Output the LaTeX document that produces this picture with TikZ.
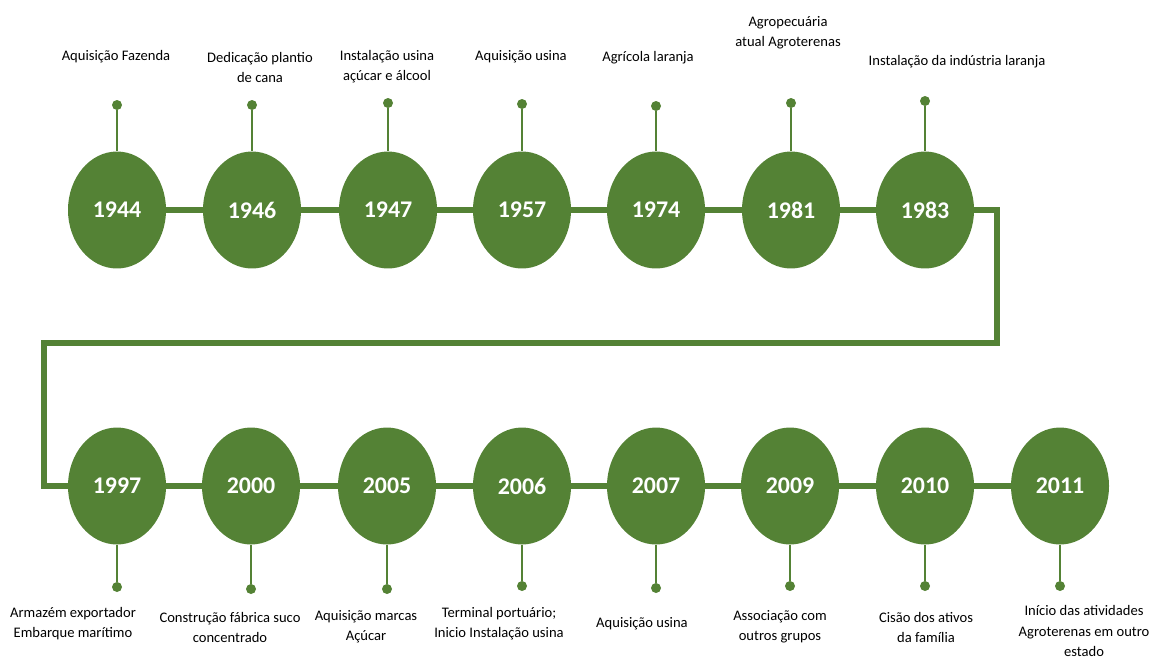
\documentclass[tikz,border=0pt]{standalone}
\usepackage{fontspec}
\setmainfont{Carlito}
\usetikzlibrary{shapes.geometric}
\definecolor{folha}{RGB}{84,130,53}

\begin{document}
\begin{tikzpicture}[x=0.02cm,y=-0.02cm,
    ano/.style={ellipse,fill=folha,minimum width=1.96cm,minimum height=2.34cm,inner sep=0pt,text=white,font=\fontsize{13.6}{15}\selectfont\bfseries},
    pino/.style={circle,fill=folha,minimum size=0.2cm,inner sep=0pt},
    legenda/.style={align=center,font=\fontsize{8.3}{11.4}\selectfont},
    elo/.style={draw=folha,line width=0.11cm},
    haste/.style={draw=folha,line width=0.8pt}]
\useasboundingbox (0,0) rectangle (1151,660);
% linha de cima
\node[ano] (a1944) at (117,210) {1944};
\node[ano] (a1946) at (252,210) {1946};
\node[ano] (a1947) at (388,210) {1947};
\node[ano] (a1957) at (522,210) {1957};
\node[ano] (a1974) at (656,210) {1974};
\node[ano] (a1981) at (791,210) {1981};
\node[ano] (a1983) at (925,210) {1983};
% linha de baixo
\node[ano] (a1997) at (117,486) {1997};
\node[ano] (a2000) at (251,486) {2000};
\node[ano] (a2005) at (387,486) {2005};
\node[ano] (a2006) at (522,486) {2006};
\node[ano] (a2007) at (656,486) {2007};
\node[ano] (a2009) at (790,486) {2009};
\node[ano] (a2010) at (925,486) {2010};
\node[ano] (a2011) at (1060,486) {2011};
\foreach \i/\j in {1944/1946,1946/1947,1947/1957,1957/1974,1974/1981,1981/1983,1997/2000,2000/2005,2005/2006,2006/2007,2007/2009,2009/2010,2010/2011}
    \draw[elo] (a\i) -- (a\j);
\coordinate (c1) at (997,343);
\coordinate (c2) at (44,343);
\draw[elo] (a1983.east) -- (a1983.east -| c1) -- (c1) -- (c2) |- (a1997.west);
% pinos
\node[pino] (p1944) at (117,105) {};
\node[pino] (p1946) at (252,105) {};
\node[pino] (p1947) at (388,103) {};
\node[pino] (p1957) at (522,104) {};
\node[pino] (p1974) at (656,106) {};
\node[pino] (p1981) at (791,103) {};
\node[pino] (p1983) at (925,101) {};
\node[pino] (p1997) at (117,587) {};
\node[pino] (p2000) at (251,589) {};
\node[pino] (p2005) at (387,589) {};
\node[pino] (p2006) at (522,586) {};
\node[pino] (p2007) at (656,588) {};
\node[pino] (p2009) at (790,586) {};
\node[pino] (p2010) at (925,586) {};
\node[pino] (p2011) at (1060,586) {};
\foreach \i in {1944,1946,1947,1957,1974,1981,1983,1997,2000,2005,2006,2007,2009,2010,2011}
    \draw[haste] (p\i) -- (a\i);
% textos
\node[legenda] (t1944) at (116,57) {Aquisição Fazenda};
\node[legenda] (t1946) at (260,67) {Dedicação plantio\\de cana};
\node[legenda] (t1947) at (387,67) {Instalação usina\\açúcar e álcool};
\node[legenda] (t1957) at (521,57) {Aquisição usina};
\node[legenda] (t1974) at (648,58) {Agrícola laranja};
\node[legenda] (t1981) at (788,33) {Agropecuária\\atual Agroterenas};
\node[legenda] (t1983) at (957,62) {Instalação da indústria laranja};
\node[legenda] (t1997) at (73,624) {Armazém exportador\\Embarque marítimo};
\node[legenda] (t2000) at (230,627) {Construção fábrica suco\\concentrado};
\node[legenda] (t2005) at (366,627) {Aquisição marcas\\Açúcar};
\node[legenda] (t2006) at (499,624) {Terminal portuário;\\Inicio Instalação usina};
\node[legenda] (t2007) at (642,624) {Aquisição usina};
\node[legenda] (t2009) at (780,627) {Associação com\\outros grupos};
\node[legenda] (t2010) at (926,627) {Cisão dos ativos\\da família};
\node[legenda] (t2011) at (1084,631) {Início das atividades\\Agroterenas em outro\\estado};
\end{tikzpicture}
\end{document}
